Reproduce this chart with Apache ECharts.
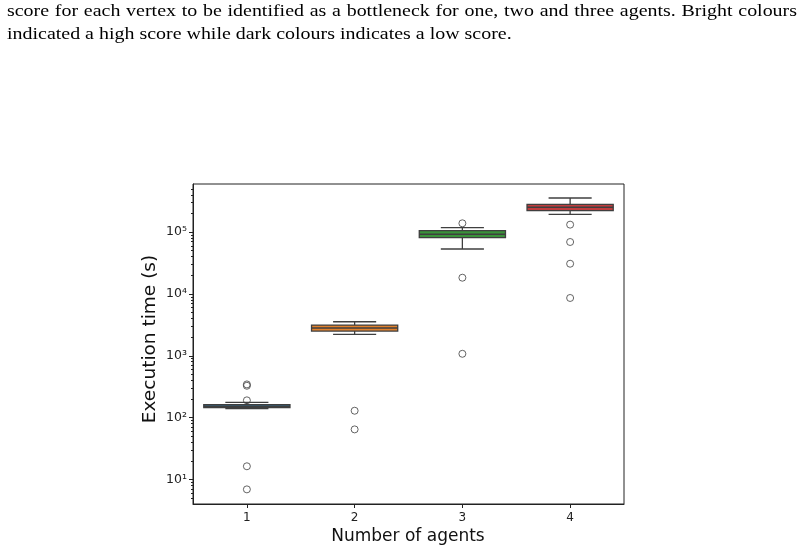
<!DOCTYPE html>
<html><head><meta charset="utf-8">
<script src="https://cdn.jsdelivr.net/npm/echarts@6/dist/echarts.min.js"></script>
<style>html,body{margin:0;padding:0;background:#fff}#c{width:804px;height:553px}</style>
</head><body><div id="c"></div>
<script>
const categories = ['1', '2', '3', '4'];
const whiskerLow  = [140, 2220, 53300, 194000];
const q1          = [145, 2510, 81200, 222000];
const median      = [153, 2800, 92100, 252000];
const q3          = [162, 3140, 105500, 281600];
const whiskerHigh = [176, 3550, 117800, 356500];
const outliers1 = [344, 327, 190, 16.3, 6.9];
const outliers2 = [129, 64.4];
const outliers3 = [138800, 18300, 1076];
const outliers4 = [132000, 69200, 30800, 8600];
const majorTicks = [10, 100, 1000, 10000, 100000];
const minorTicks = [5, 6, 7, 8, 9, 20, 30, 40, 50, 60, 70, 80, 90,
  200, 300, 400, 500, 600, 700, 800, 900, 2000, 3000, 4000, 5000, 6000, 7000, 8000, 9000,
  20000, 30000, 40000, 50000, 60000, 70000, 80000, 90000, 200000, 300000, 400000, 500000];
const captionLine1 = 'score for each vertex to be identified as a bottleneck for one, two and three agents.  Bright colours';
const captionLine2 = 'indicated a high score while dark colours indicates a low score.';

const palette = ['#3274a1', '#e1812c', '#3a923a', '#c03d3e'];
const edge = '#3f3f3f';
const sup = {1:'\u00b9', 2:'\u00b2', 3:'\u00b3', 4:'\u2074', 5:'\u2075'};

const boxData = categories.map((c, i) => [i, whiskerLow[i], q1[i], median[i], q3[i], whiskerHigh[i]]);
const outlierData = [];
[outliers1, outliers2, outliers3, outliers4].forEach((arr, i) => arr.forEach(v => outlierData.push([i, v])));

// caption: slightly widened serif text, first line justified
const capFont = '17.5px "Liberation Serif"';
const capScale = 1.14;
const mctx = document.createElement('canvas').getContext('2d');
mctx.font = capFont;
const words = captionLine1.split(' ').filter(w => w.length);
const wW = words.map(w => mctx.measureText(w).width * capScale);
const totalW = wW.reduce((a, b) => a + b, 0);
const gap = (797 - 7 - totalW) / (words.length - 1);
const captionEls = [];
let cx0 = 7;
words.forEach((w, i) => {
  captionEls.push({type: 'text', x: cx0, y: 11, scaleX: capScale, style: {text: w, font: capFont, fill: '#000', textVerticalAlign: 'middle'}});
  cx0 += wW[i] + gap;
});
captionEls.push({type: 'text', x: 7, y: 34, scaleX: capScale, style: {text: captionLine2, font: capFont, fill: '#000', textVerticalAlign: 'middle'}});

const chart = echarts.init(document.getElementById('c'), null, {renderer: 'canvas'});
const axisColor = '#222';
chart.setOption({
  animation: false,
  backgroundColor: '#fff',
  grid: {left: 193, right: 180, top: 184, bottom: 49, show: true, borderColor: axisColor, borderWidth: 1, backgroundColor: 'transparent'},
  xAxis: {
    type: 'category', data: categories, boundaryGap: true,
    axisLine: {show: true, lineStyle: {color: axisColor, width: 1}},
    axisTick: {show: true, alignWithLabel: true, length: 4, lineStyle: {color: axisColor}},
    axisLabel: {fontFamily: 'DejaVu Sans', fontSize: 12, color: '#222', margin: 8},
    splitLine: {show: false}
  },
  yAxis: [{
    type: 'log', logBase: 10, min: 4, max: 600000,
    axisLine: {show: true, lineStyle: {color: axisColor, width: 1}},
    axisTick: {show: true, length: 4, customValues: majorTicks, lineStyle: {color: axisColor}},
    axisLabel: {customValues: majorTicks, fontFamily: 'DejaVu Sans', fontSize: 12.5, color: '#222', margin: 6,
      formatter: v => { const e = Math.round(Math.log10(v)); return sup[e] ? '10' + sup[e] : ''; }},
    splitLine: {show: false}
  }, {
    type: 'log', logBase: 10, min: 4, max: 600000, position: 'left', offset: 0,
    axisLine: {show: false},
    axisTick: {show: true, length: 2, customValues: minorTicks, lineStyle: {color: axisColor}},
    axisLabel: {show: false},
    splitLine: {show: false}
  }],
  series: [{
    type: 'custom',
    data: boxData,
    encode: {x: 0, y: [1, 2, 3, 4, 5]},
    renderItem: function (params, api) {
      const x = api.value(0);
      const lo = api.coord([x, api.value(1)]);
      const b1 = api.coord([x, api.value(2)]);
      const md = api.coord([x, api.value(3)]);
      const b3 = api.coord([x, api.value(4)]);
      const hi = api.coord([x, api.value(5)]);
      const band = api.size([1, 1])[0];
      const bw = band * 0.8, cw = bw * 0.5;
      const cx = lo[0];
      const ls = {stroke: edge, lineWidth: 1.3};
      return {type: 'group', children: [
        {type: 'line', shape: {x1: cx, y1: lo[1], x2: cx, y2: b1[1]}, style: ls},
        {type: 'line', shape: {x1: cx, y1: b3[1], x2: cx, y2: hi[1]}, style: ls},
        {type: 'line', shape: {x1: cx - cw / 2, y1: lo[1], x2: cx + cw / 2, y2: lo[1]}, style: ls},
        {type: 'line', shape: {x1: cx - cw / 2, y1: hi[1], x2: cx + cw / 2, y2: hi[1]}, style: ls},
        {type: 'rect', shape: {x: cx - bw / 2, y: b3[1], width: bw, height: b1[1] - b3[1]},
          style: {fill: palette[params.dataIndex], stroke: edge, lineWidth: 1.3}},
        {type: 'line', shape: {x1: cx - bw / 2, y1: md[1], x2: cx + bw / 2, y2: md[1]}, style: {stroke: edge, lineWidth: 1.5}}
      ]};
    },
    z: 2
  }, {
    type: 'scatter',
    data: outlierData,
    symbol: 'circle', symbolSize: 7,
    itemStyle: {color: 'rgba(0,0,0,0)', borderColor: edge, borderWidth: 1},
    z: 3
  }],
  graphic: captionEls.concat([
    {type: 'text', x: 150, y: 339, rotation: Math.PI / 2, style: {text: 'Execution time (s)', font: '18.5px "DejaVu Sans"', fill: '#111', textAlign: 'center', textVerticalAlign: 'middle'}},
    {type: 'text', x: 408, y: 537, style: {text: 'Number of agents', font: '17px "DejaVu Sans"', fill: '#111', textAlign: 'center', textVerticalAlign: 'middle'}}
  ])
});
</script></body></html>
